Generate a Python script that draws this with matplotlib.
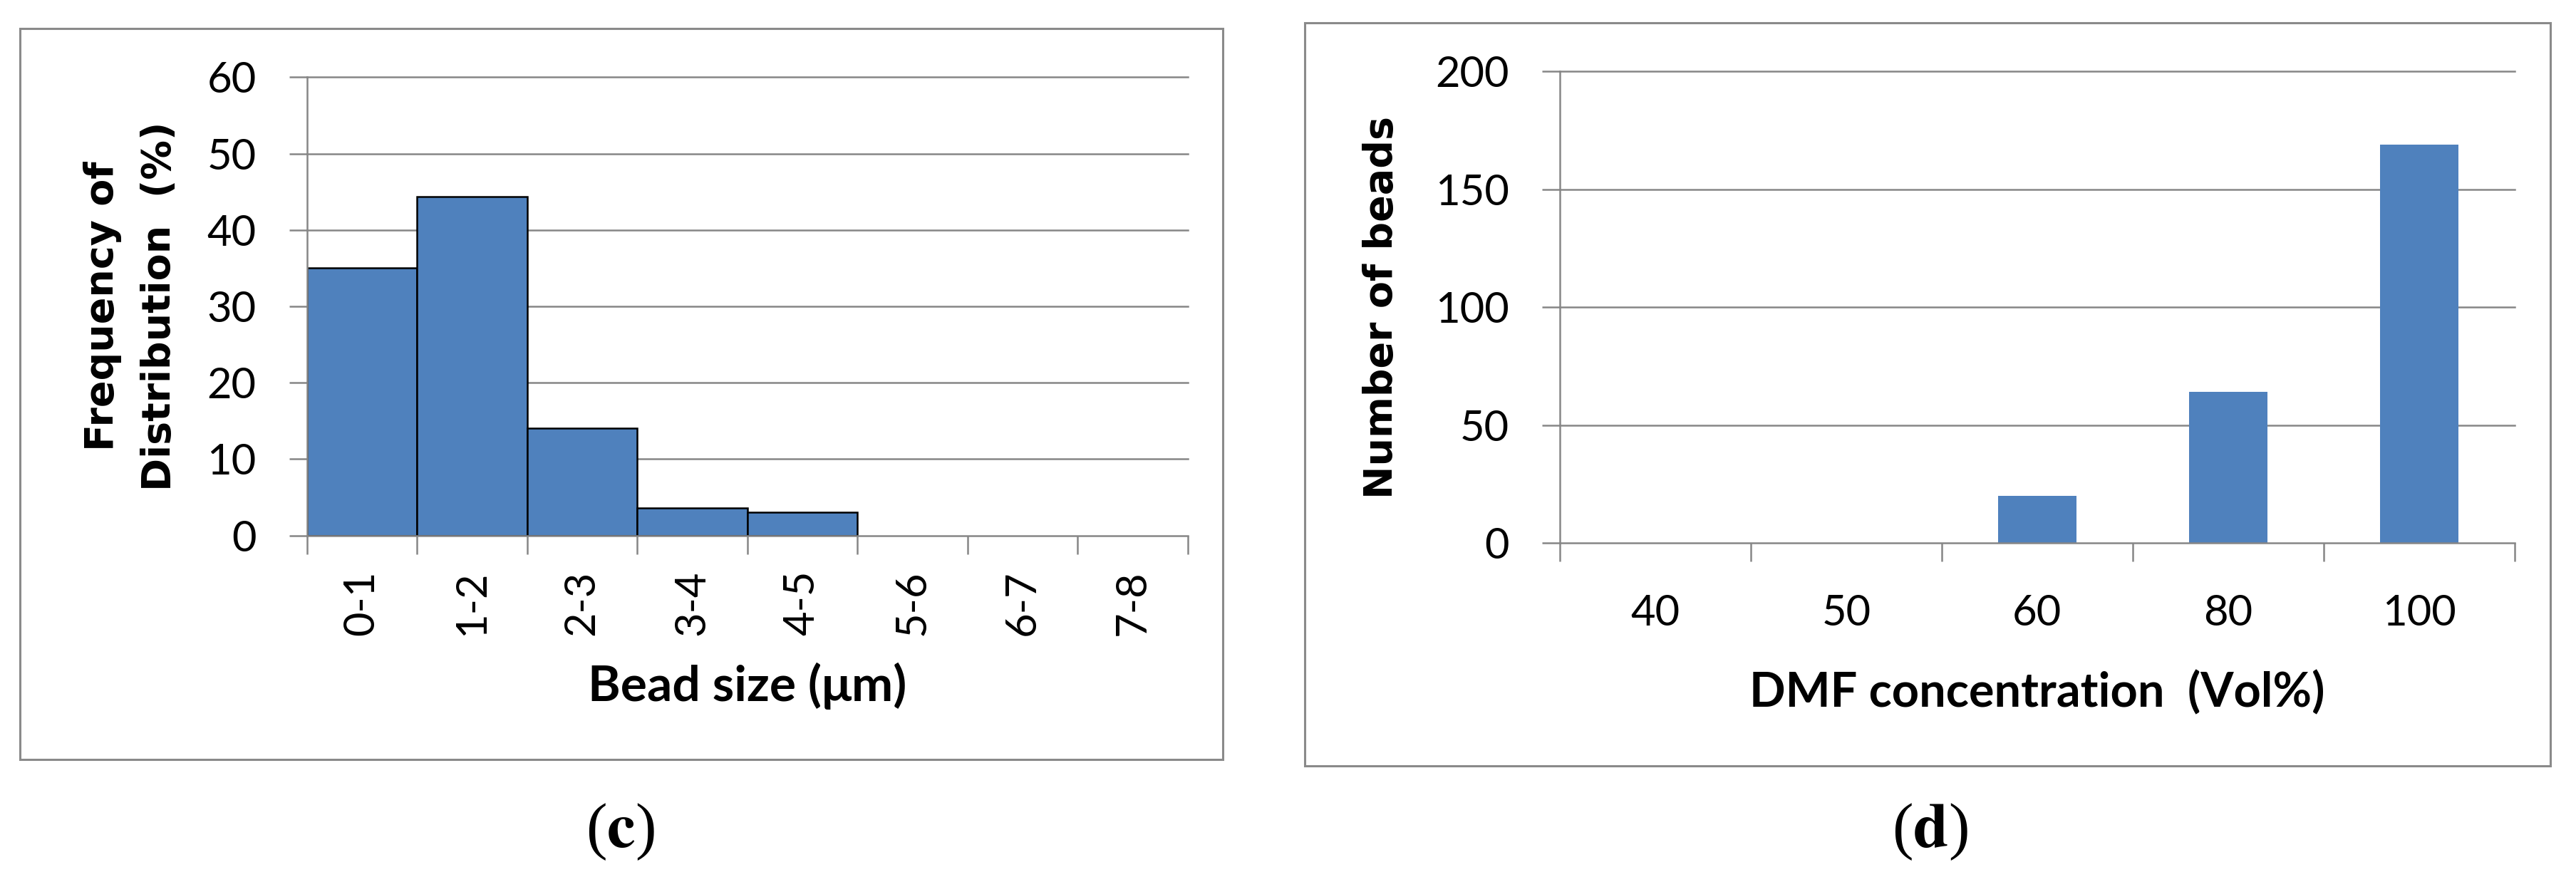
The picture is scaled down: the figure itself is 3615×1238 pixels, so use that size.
import numpy as np
import matplotlib
matplotlib.use("Agg")
import matplotlib.pyplot as plt
from matplotlib.patches import Rectangle

# (c) bead size distribution
size_bins = ["0-1", "1-2", "2-3", "3-4", "4-5", "5-6", "6-7", "7-8"]
size_freq = [35, 44.4, 14, 3.6, 3, 0, 0, 0]

# (d) number of beads vs DMF concentration
dmf_conc = ["40", "50", "60", "80", "100"]
bead_count = [0, 0, 20, 64, 169]

BLUE = "#4F81BD"
GREY = "#868686"
W, H = 3615, 1238
DPI = 100
LW = 1.8  # ~2.5 px

plt.rcParams["font.family"] = ["Lato", "DejaVu Sans"]
plt.rcParams["mathtext.fontset"] = "stix"

fig = plt.figure(figsize=(W / DPI, H / DPI), dpi=DPI)


def px_axes(x0, x1, y0, y1):
    # pixel box (y measured from the top) -> figure fraction
    return fig.add_axes([x0 / W, 1 - y1 / H, (x1 - x0) / W, (y1 - y0) / H])


def px_frame(x0, x1, y0, y1):
    fig.add_artist(Rectangle((x0 / W, 1 - y1 / H), (x1 - x0) / W, (y1 - y0) / H,
                             transform=fig.transFigure, fill=False,
                             ec="#8a8a8a", lw=2.2))


def excel_style(ax, n, ymax, ystep, xpad):
    ax.set_xlim(0, n)
    ax.set_ylim(0, ymax)
    ticks = np.arange(0, ymax + ystep, ystep)
    ax.set_yticks(ticks)
    # gridlines, drawn unclipped so the top one is full width
    for t in ticks[1:]:
        ax.axhline(t, color=GREY, lw=LW, zorder=0.5, clip_on=False)
    for s in ["top", "right"]:
        ax.spines[s].set_visible(False)
    for s in ["left", "bottom"]:
        ax.spines[s].set_color(GREY)
        ax.spines[s].set_linewidth(LW)
    ax.tick_params(axis="y", direction="out", length=18, width=LW, color=GREY,
                   pad=33, labelsize=43)
    # category boundaries carry the tick marks, centres carry the labels
    ax.set_xticks(np.arange(n) + 0.5)
    ax.set_xticks(np.arange(n + 1), minor=True)
    ax.tick_params(axis="x", which="major", length=0, pad=xpad, labelsize=43)
    ax.tick_params(axis="x", which="minor", direction="out", length=19,
                   width=LW, color=GREY)


# ---- panel (c) ----
px_frame(28, 1716, 40, 1066)
ax1 = px_axes(430.5, 1666.5, 108.3, 751.6)
excel_style(ax1, len(size_bins), 60, 10, xpad=35)
edges = ["black" if v > 0 else "none" for v in size_freq]
ax1.bar(np.arange(len(size_bins)) + 0.5, size_freq, width=1.0, color=BLUE,
        edgecolor=edges, linewidth=LW, zorder=1)
ax1.set_xticklabels(size_bins, rotation=90, va="top")
ax1.set_xlabel("Bead size (μm)", fontsize=50, fontweight="bold")
ax1.xaxis.label.set_va("center")
ax1.xaxis.set_label_coords(0.5, (751.6 - 963) / (751.6 - 108.3))
ax1.set_ylabel("Frequency of\nDistribution  (%)", fontsize=40,
               fontweight="bold", family=["DejaVu Sans"], linespacing=1.6)
ax1.yaxis.label.set_va("center")
ax1.yaxis.set_label_coords((184 - 430.5) / 1236, 0.5)

# ---- panel (d) ----
px_frame(1831, 3579, 32, 1075)
ax2 = px_axes(2188.8, 3528.7, 100.2, 762.2)
excel_style(ax2, len(dmf_conc), 200, 50, xpad=52)
ax2.bar(np.arange(len(dmf_conc)) + 0.5, bead_count, width=0.41, color=BLUE,
        zorder=1)
ax2.set_xticklabels(dmf_conc)
ax2.set_xlabel("DMF concentration  (Vol%)", fontsize=48, fontweight="bold")
ax2.xaxis.label.set_va("center")
ax2.xaxis.set_label_coords(0.5, (762.2 - 973) / (762.2 - 100.2))
ax2.set_ylabel("Number of beads", fontsize=40, fontweight="bold",
               family=["DejaVu Sans"])
ax2.yaxis.label.set_va("center")
ax2.yaxis.set_label_coords((1939 - 2188.8) / 1339.9, 0.5)

# sub-figure letters
fig.text(870 / W, 1 - 1168 / H, r"($\mathbf{c}$)", fontsize=64,
         family=["Liberation Serif"], ha="center", va="center")
fig.text(2708 / W, 1 - 1168 / H, r"($\mathbf{d}$)", fontsize=64,
         family=["Liberation Serif"], ha="center", va="center")

fig.savefig("out.png", dpi=DPI)
